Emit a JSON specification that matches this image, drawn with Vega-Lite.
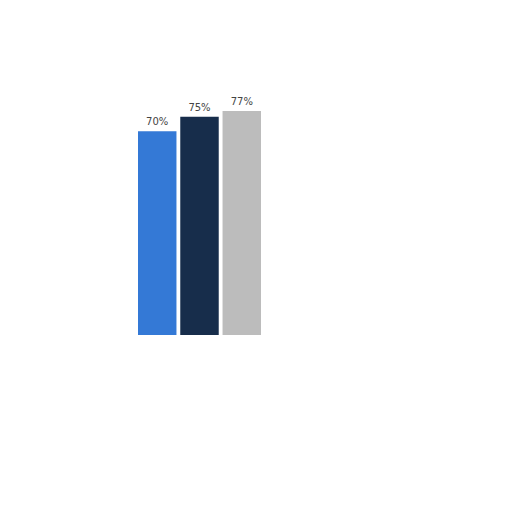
{
  "$schema": "https://vega.github.io/schema/vega-lite/v6.json",
  "autosize": "none",
  "width": 123,
  "height": 291,
  "padding": {"left": 138, "top": 44, "right": 251, "bottom": 177},
  "background": "white",
  "config": {"view": {"stroke": null}},
  "data": {"values": [
    {"cat": "A", "value": 70, "label": "70%"},
    {"cat": "B", "value": 75, "label": "75%"},
    {"cat": "C", "value": 77, "label": "77%"}
  ]},
  "encoding": {
    "x": {"field": "cat", "type": "nominal", "axis": null, "scale": {"paddingInner": 0.09, "paddingOuter": 0}},
    "y": {"field": "value", "type": "quantitative", "axis": null, "scale": {"domain": [0, 100]}}
  },
  "layer": [
    {"mark": {"type": "bar"},
     "encoding": {"color": {"field": "cat", "type": "nominal", "legend": null,
       "scale": {"domain": ["A", "B", "C"], "range": ["#3479d6", "#172d4b", "#bcbcbc"]}}}},
    {"mark": {"type": "text", "baseline": "bottom", "dy": -4, "fontSize": 10, "font": "DejaVu Sans", "color": "#444444"},
     "encoding": {"text": {"field": "label"}}}
  ]
}
